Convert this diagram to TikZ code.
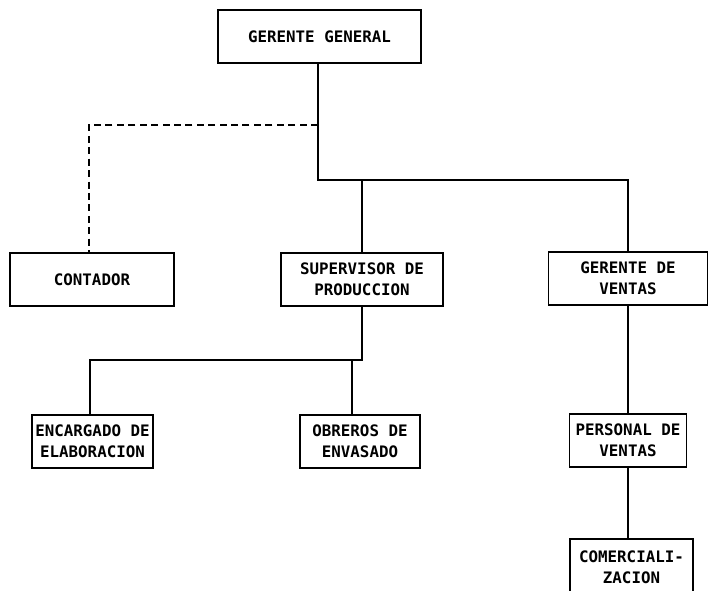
\documentclass[tikz,border=0pt]{standalone}
\usepackage{fontspec}
\newfontfamily\boxfont{DejaVu Sans Mono}
\usetikzlibrary{calc,positioning}

\tikzset{
    cargo/.style={draw, line width=1pt, inner sep=0pt, align=center,
        font=\boxfont\bfseries\fontsize{9}{12}\selectfont, minimum height=1.06cm},
    linea/.style={line width=1pt},
    lineapunt/.style={line width=1pt, dash pattern=on 4pt off 2.5pt}
}

\begin{document}
\begin{tikzpicture}[x=0.02cm, y=-0.02cm]
    \useasboundingbox (0, 0) rectangle (710, 591);
    \begin{scope}
        % primer nivel
        \node[cargo, minimum width=4.06cm] (gg) at (319.5, 36.5) {GERENTE GENERAL};
        % segundo nivel
        \node[cargo, minimum width=3.28cm] (cont) at (92, 279.5) {CONTADOR};
        \node[cargo, minimum width=3.24cm] (sup) at (362, 279.5) {SUPERVISOR DE\\PRODUCCION};
        \node[cargo, minimum width=3.18cm] (gv) at (628, 278.5) {GERENTE DE\\VENTAS};
        % tercer nivel
        \node[cargo, minimum width=2.42cm] (enc) at (92.5, 441.5) {ENCARGADO DE\\ELABORACION};
        \node[cargo, minimum width=2.40cm] (obr) at (360, 441.5) {OBREROS DE\\ENVASADO};
        \node[cargo, minimum width=2.34cm] (pers) at (628, 440.5) {PERSONAL DE\\VENTAS};
        \node[cargo, minimum width=2.46cm, minimum height=1.12cm] (com) at (631.5, 567) {COMERCIALI-\\ZACION};
    \end{scope}
    \begin{scope}
        \coordinate (rama) at (318, 180);
        \coordinate (staff) at (318, 125);
        \coordinate (staffx) at (89, 125);
        \coordinate (prod) at (362, 360);
        \coordinate (encx) at (90, 360);
        \coordinate (obrx) at (352, 360);
        \draw[linea] (gg.south -| rama) -- (rama) -- (rama -| gv.north) -- (gv.north);
        \draw[linea] (rama -| sup.north) -- (sup.north);
        \draw[lineapunt] (staff) -- (staffx) -- (cont.north -| staffx);
        \draw[linea] (sup.south) -- (prod) -- (encx) -- (enc.north -| encx);
        \draw[linea] (obrx) -- (obr.north -| obrx);
        \draw[linea] (gv.south) -- (pers.north);
        \draw[linea] (pers.south) -- (com.north -| pers.south);
    \end{scope}
\end{tikzpicture}
\end{document}
